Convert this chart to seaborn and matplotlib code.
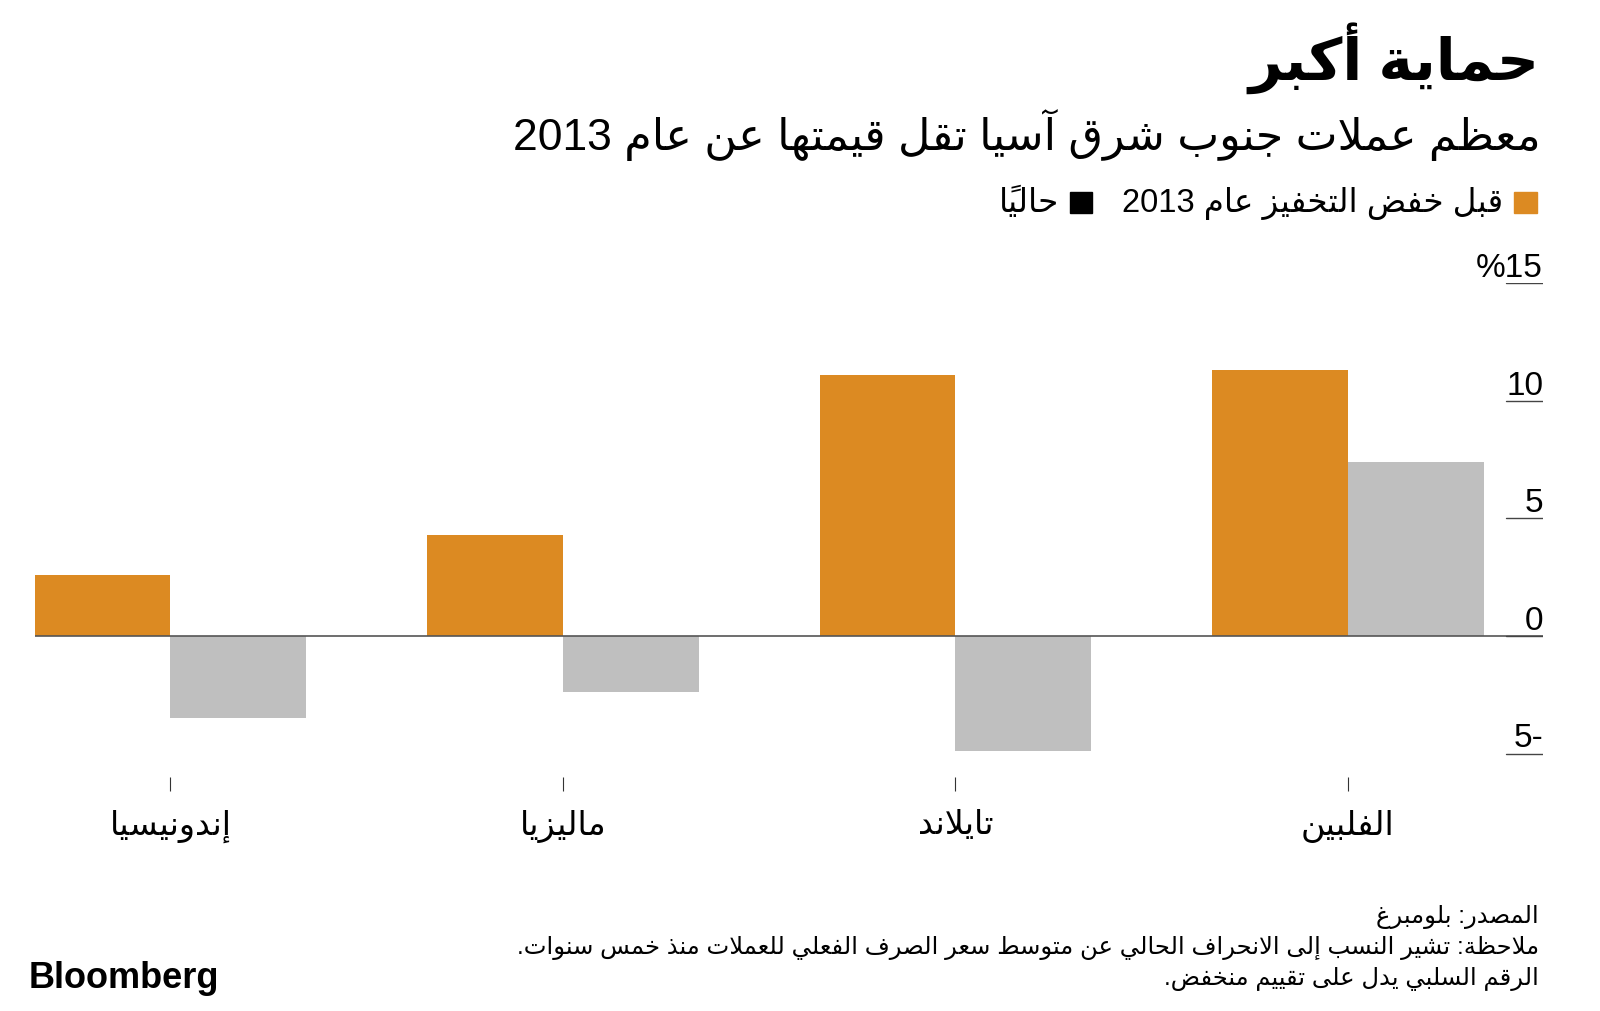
import pandas as pd
import matplotlib
matplotlib.use('Agg')
import matplotlib.pyplot as plt
import matplotlib.transforms as mtransforms
from matplotlib.patches import Rectangle
import seaborn as sns

# values
countries = ['إندونيسيا', 'ماليزيا', 'تايلاند', 'الفلبين']
before_taper = [2.6, 4.3, 11.1, 11.3]
current = [-3.5, -2.4, -4.9, 7.4]
series_names = ['قبل خفض التخفيز عام 2013', 'حالياً']
y_ticks = [-5, 0, 5, 10, 15]
y_tick_labels = ['5-', '0', '5', '10', '%15']

title = 'حماية أكبر'
subtitle = 'معظم عملات جنوب شرق آسيا تقل قيمتها عن عام 2013'
footnotes = ['المصدر: بلومبرغ',
             'ملاحظة: تشير النسب إلى الانحراف الحالي عن متوسط سعر الصرف الفعلي للعملات منذ خمس سنوات.',
             'الرقم السلبي يدل على تقييم منخفض.']

orange = '#DC8A22'
gray = '#BFBFBF'

# matplotlib has no Arabic shaping, so pick the presentation forms by hand
# and lay the text out right to left
dual_start = {'ئ': 0xFE89, 'ب': 0xFE8F, 'ت': 0xFE95, 'ث': 0xFE99, 'ج': 0xFE9D,
              'ح': 0xFEA1, 'خ': 0xFEA5, 'س': 0xFEB1, 'ش': 0xFEB5, 'ص': 0xFEB9,
              'ض': 0xFEBD, 'ط': 0xFEC1, 'ظ': 0xFEC5, 'ع': 0xFEC9, 'غ': 0xFECD,
              'ف': 0xFED1, 'ق': 0xFED5, 'ك': 0xFED9, 'ل': 0xFEDD, 'م': 0xFEE1,
              'ن': 0xFEE5, 'ه': 0xFEE9, 'ي': 0xFEF1}
right_start = {'آ': 0xFE81, 'أ': 0xFE83, 'ؤ': 0xFE85, 'إ': 0xFE87, 'ا': 0xFE8D,
               'ة': 0xFE93, 'د': 0xFEA9, 'ذ': 0xFEAB, 'ر': 0xFEAD, 'ز': 0xFEAF,
               'و': 0xFEED, 'ى': 0xFEEF}
lam_alef = {'آ': 0xFEF5, 'أ': 0xFEF7, 'إ': 0xFEF9, 'ا': 0xFEFB}


def is_mark(c):
    return '\u064b' <= c <= '\u0652'


def shape(text):
    chars = list(text)
    n = len(chars)

    def neighbour(i, step):
        j = i + step
        while 0 <= j < n and is_mark(chars[j]):
            j += step
        return chars[j] if 0 <= j < n else None

    out = []
    i = 0
    while i < n:
        c = chars[i]
        if is_mark(c) or (c not in dual_start and c not in right_start):
            out.append(c)
            i += 1
            continue
        prev, nxt = neighbour(i, -1), neighbour(i, 1)
        jp = prev in dual_start
        if c == 'ل' and nxt in lam_alef:
            out.append(chr(lam_alef[nxt] + (1 if jp else 0)))
            j = i + 1
            while is_mark(chars[j]):
                j += 1
            i = j + 1
            continue
        if c in dual_start:
            jn = nxt in dual_start or nxt in right_start
            out.append(chr(dual_start[c] + (3 if jp and jn else 1 if jp else 2 if jn else 0)))
        else:
            out.append(chr(right_start[c] + (1 if jp else 0)))
        i += 1

    units = []
    for ch in out:
        if is_mark(ch) and units:
            units[-1] += ch
        elif ch.isdigit() and units and units[-1][-1].isdigit():
            units[-1] += ch
        else:
            units.append(ch)
    return ''.join(reversed(units))


sns.set_style('white')
plt.rcParams['font.family'] = ['Liberation Sans', 'DejaVu Sans']
plt.rcParams['text.color'] = 'black'
plt.rcParams['xtick.color'] = '#333333'
plt.rcParams['xtick.labelcolor'] = 'black'

df = pd.DataFrame({
    'country': countries * 2,
    'series': [series_names[0]] * len(countries) + [series_names[1]] * len(countries),
    'value': before_taper + current,
})

fig = plt.figure(figsize=(16, 10.12), dpi=100)
ax = fig.add_axes([0.0217, 0.2312, 0.9427, 0.4881])

sns.barplot(data=df, x='country', y='value', hue='series', order=countries,
            hue_order=series_names, palette=[orange, gray], width=0.6914,
            saturation=1, errorbar=None, legend=False, linewidth=0, ax=ax)

ax.set_xlim(-0.3457, 3.497)
ax.set_ylim(-6, 15)
for s in ax.spines.values():
    s.set_visible(False)
ax.set_xlabel('')
ax.set_ylabel('')
ax.set_yticks([])
ax.set_xticks(range(len(countries)))
ax.set_xticklabels([shape(c) for c in countries], fontsize=24)
ax.tick_params(axis='x', bottom=True, direction='out', length=10, width=0.8,
               color='#333333', pad=13, labelcolor='black')

# zero line and right-hand tick marks with labels above them
ax.axhline(0, color='#555555', lw=1.2, zorder=3)
trans = mtransforms.blended_transform_factory(ax.transAxes, ax.transData)
for v, lab in zip(y_ticks, y_tick_labels):
    ax.axhline(v, xmin=0.9755, xmax=1, color='#444444', lw=1, zorder=3)
    ax.text(1.0, v + 0.3, lab, transform=trans, ha='right', va='baseline', fontsize=24)

# titles
fig.text(1539 / 1600, 1 - 80 / 1012, shape(title), ha='right', va='baseline',
         fontsize=42, fontweight='bold')
fig.text(1541 / 1600, 1 - 150 / 1012, shape(subtitle), ha='right', va='baseline', fontsize=32)

# legend, drawn right to left
fig.patches.append(Rectangle((1514 / 1600, 1 - 214 / 1012), 23 / 1600, 21 / 1012,
                             transform=fig.transFigure, color=orange))
t1 = fig.text(1503 / 1600, 1 - 212 / 1012, shape(series_names[0]), ha='right',
              va='baseline', fontsize=23.5)
fig.canvas.draw()
left = t1.get_window_extent().x0 / 1600
fig.patches.append(Rectangle((left - 52 / 1600, 1 - 214 / 1012), 22 / 1600, 21 / 1012,
                             transform=fig.transFigure, color='black'))
fig.text(left - 63 / 1600, 1 - 212 / 1012, shape(series_names[1]), ha='right',
         va='baseline', fontsize=23.5)

# footnotes and logo
for k, line in enumerate(footnotes):
    fig.text(1539 / 1600, 1 - (923 + 31 * k) / 1012, shape(line), ha='right',
             va='baseline', fontsize=17.5)
fig.text(29 / 1600, 1 - 988 / 1012, 'Bloomberg', ha='left', va='baseline',
         fontsize=26, fontweight='bold', family='Liberation Sans')

plt.savefig('out.png', dpi=100)
